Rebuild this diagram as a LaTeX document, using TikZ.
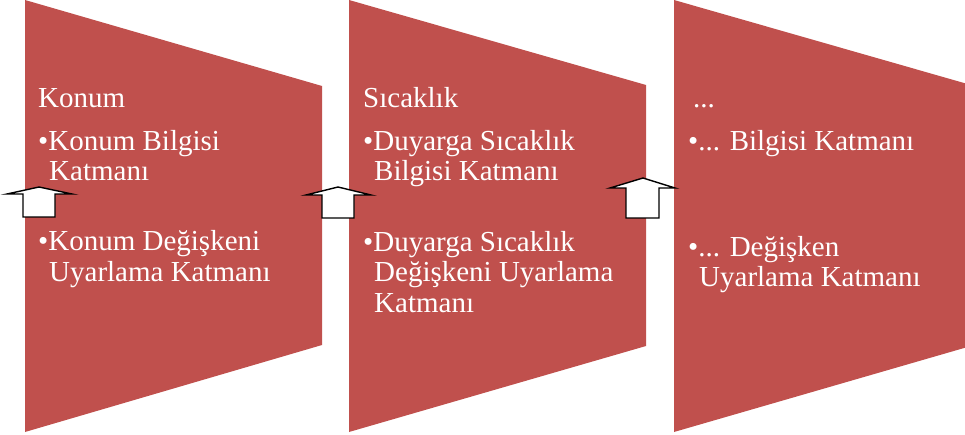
\documentclass[tikz,border=0pt]{standalone}
\usepackage{fontspec}
\setmainfont{Liberation Serif}
\definecolor{panelred}{HTML}{C0504D}
\begin{document}
\begin{tikzpicture}[x=1pt,y=-1pt,
  panel/.style={fill=panelred,draw=none},
  uparrow/.style={fill=white,draw=black,line width=1.4pt,line join=miter},
  txt/.style={anchor=base west,inner sep=0pt,text=white,font=\fontsize{29}{30}\selectfont}]
\useasboundingbox (0,0) rectangle (965,435);
% panels
\path[panel] (25,0) -- (322,86) -- (322,345) -- (25,432) -- cycle;
\path[panel] (349,0) -- (646,85) -- (646,346) -- (349,432) -- cycle;
\begin{scope}
\clip (0,0) rectangle (965,435);
\path[panel] (674,0) -- (971,85) -- (971,346) -- (674,432) -- cycle;
\end{scope}
% arrows
\draw[uparrow] (39,187) -- (72,194) -- (55,194) -- (55,217) -- (23,217) -- (23,194) -- (7,194) -- cycle;
\draw[uparrow] (338,187) -- (371,195) -- (354,195) -- (354,218) -- (322,218) -- (322,195) -- (306,195) -- cycle;
\draw[uparrow] (643,178) -- (675,188) -- (659,188) -- (659,218) -- (626,218) -- (626,188) -- (610,188) -- cycle;
% panel 1 text
\node[txt] (t1h) at (38,108) {Konum};
\node[txt] (t1a) at (38,151) {•Konum Bilgisi};
\node[txt] (t1b) at (49,181) {Katmanı};
\node[txt] (t1c) at (38,251) {•Konum Değişkeni};
\node[txt] (t1d) at (49,281) {Uyarlama Katmanı};
% panel 2 text
\node[txt] (t2h) at (363,108) {Sıcaklık};
\node[txt] (t2a) at (363,151) {•Duyarga Sıcaklık};
\node[txt] (t2b) at (374,181) {Bilgisi Katmanı};
\node[txt] (t2c) at (363,252) {•Duyarga Sıcaklık};
\node[txt] (t2d) at (374,282) {Değişkeni Uyarlama};
\node[txt] (t2e) at (374,312) {Katmanı};
% panel 3 text
\node[txt] (t3h) at (693,108) {...};
\node[txt] (t3a) at (688,151) {•... Bilgisi Katmanı};
\node[txt] (t3b) at (688,257) {•... Değişken};
\node[txt] (t3c) at (699,287) {Uyarlama Katmanı};
\end{tikzpicture}
\end{document}
